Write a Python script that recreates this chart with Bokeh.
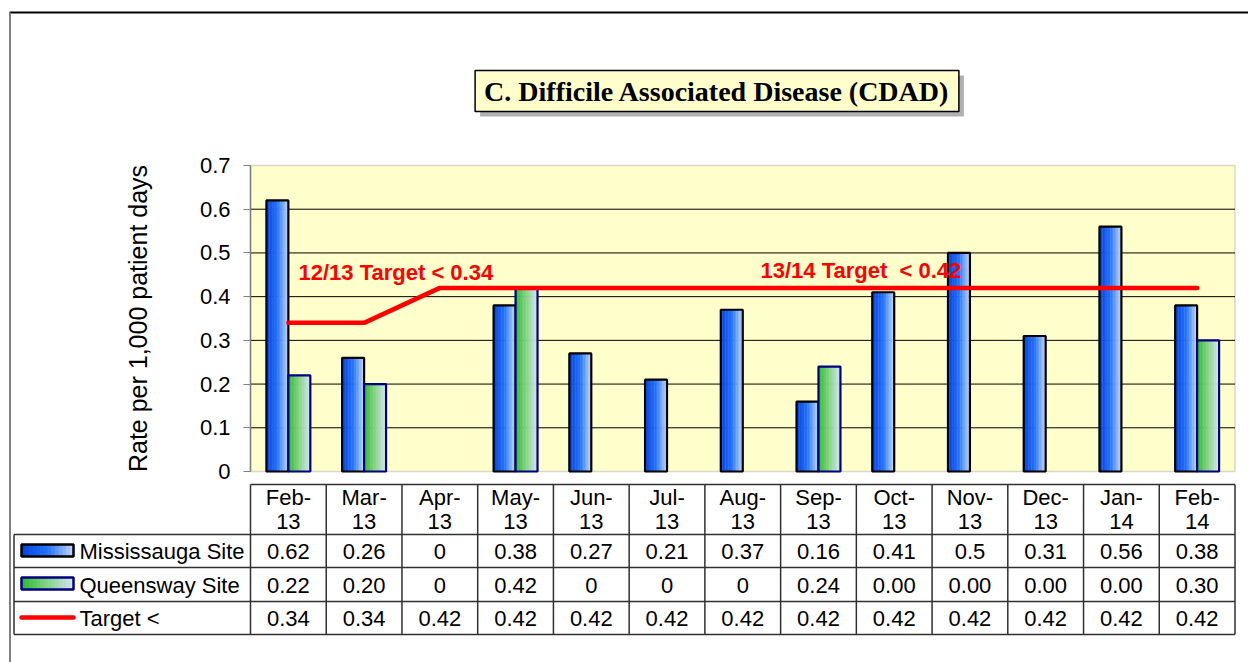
import numpy as np
from bokeh.plotting import figure
from bokeh.models import Range1d, FixedTicker, Label, BoxAnnotation, LinearAxis
from bokeh.embed import file_html
from bokeh.resources import INLINE
from bokeh.core.properties import value

# ---------------- data ----------------
months = ["Feb-13", "Mar-13", "Apr-13", "May-13", "Jun-13", "Jul-13", "Aug-13",
          "Sep-13", "Oct-13", "Nov-13", "Dec-13", "Jan-14", "Feb-14"]
mississauga = [0.62, 0.26, 0, 0.38, 0.27, 0.21, 0.37, 0.16, 0.41, 0.5, 0.31, 0.56, 0.38]
queensway = [0.22, 0.20, 0, 0.42, 0, 0, 0, 0.24, 0, 0, 0, 0, 0.30]
target = [0.34, 0.34, 0.42, 0.42, 0.42, 0.42, 0.42, 0.42, 0.42, 0.42, 0.42, 0.42, 0.42]
mississauga_labels = ["0.62", "0.26", "0", "0.38", "0.27", "0.21", "0.37", "0.16", "0.41", "0.5", "0.31", "0.56", "0.38"]
queensway_labels = ["0.22", "0.20", "0", "0.42", "0", "0", "0", "0.24", "0.00", "0.00", "0.00", "0.00", "0.30"]
target_labels = ["0.34", "0.34", "0.42", "0.42", "0.42", "0.42", "0.42", "0.42", "0.42", "0.42", "0.42", "0.42", "0.42"]
series_names = ["Mississauga Site", "Queensway Site", "Target <"]
y_ticks = [0, 0.1, 0.2, 0.3, 0.4, 0.5, 0.6, 0.7]
title_text = "C. Difficile Associated Disease (CDAD)"
y_title = "Rate per 1,000 patient days"
note_1213 = "12/13 Target < 0.34"
note_1314 = "13/14 Target \u00a0< 0.42"

FONT = "Liberation Sans"
W, H = 1248, 662
N = len(months)
YMAX = 0.7

# ---------------- layout geometry (pixels) ----------------
PL, PR, PT, PB = 250, 1234.5, 165, 471      # plot area
cat_px = (PR - PL) / N
val_px = (PB - PT) / YMAX

def X(px):
    return (px - PL) / cat_px

def Y(py):
    return (PB - py) / val_px

# ---------------- gradient helpers ----------------
def interp(stops, t):
    for (t0, c0), (t1, c1) in zip(stops[:-1], stops[1:]):
        if t <= t1:
            f = (t - t0) / (t1 - t0) if t1 > t0 else 0
            c = [int(round(a + (b - a) * f)) for a, b in zip(c0, c1)]
            return "#%02x%02x%02x" % tuple(c)
    return "#%02x%02x%02x" % tuple(stops[-1][1])

BLUE = [(0.0, (5, 65, 225)), (0.5, (35, 115, 250)), (1.0, (195, 215, 255))]
GREEN = [(0.0, (45, 185, 50)), (0.45, (125, 210, 125)), (1.0, (215, 228, 245))]
NS = 14

# ---------------- figure ----------------
p = figure(width=W, height=H, output_backend="svg", toolbar_location=None,
           x_range=Range1d(X(0), X(W)), y_range=Range1d(Y(H), Y(0)),
           x_axis_location=None, y_axis_location=None,
           min_border_left=0, min_border_right=0, min_border_top=0, min_border_bottom=0)
p.outline_line_color = None
p.background_fill_color = "white"
p.border_fill_color = "white"
p.grid.visible = False

# outer frame of the chart object
p.segment(x0=[X(9)], y0=[Y(12)], x1=[X(W)], y1=[Y(12)], line_color="black", line_width=2)
p.segment(x0=[X(9.5)], y0=[Y(12)], x1=[X(9.5)], y1=[Y(H)], line_color="#808080", line_width=2)

# plot area
p.add_layout(BoxAnnotation(left=0, right=N, bottom=0, top=YMAX, fill_color="#FFFFCC", fill_alpha=1,
                           line_color="#808080", line_width=1.5, level="underlay"))
grid_vals = y_ticks[1:-1]
p.segment(x0=[0] * len(grid_vals), y0=grid_vals, x1=[N] * len(grid_vals), y1=grid_vals,
          line_color="black", line_width=1)

ax = LinearAxis(fixed_location=0, bounds=(0, YMAX), ticker=FixedTicker(ticks=y_ticks))
ax.major_label_overrides = {0: "0"}
ax.axis_line_color = "#808080"
ax.axis_line_width = 1.5
ax.major_tick_line_color = "#808080"
ax.major_tick_out = 7
ax.major_tick_in = 0
ax.minor_tick_line_color = None
ax.major_label_text_font = FONT
ax.major_label_text_font_size = "22px"
ax.major_label_text_color = "black"
ax.major_label_standoff = 13
ax.axis_label = y_title
ax.axis_label_text_font = FONT
ax.axis_label_text_font_size = "25px"
ax.axis_label_text_font_style = "normal"
ax.axis_label_text_color = "black"
ax.axis_label_standoff = 45
p.add_layout(ax, "left")

BW = 0.29
idx = np.arange(N) + 0.5

def draw_bars(vals, offset, stops, outline):
    vals = np.array(vals, dtype=float)
    mask = vals > 0
    xs, tops, cols = [], [], []
    sw = BW / NS
    for k in range(NS):
        col = interp(stops, (k + 0.5) / NS)
        for i in np.where(mask)[0]:
            xs.append(idx[i] + offset - BW / 2 + (k + 0.5) * sw)
            tops.append(vals[i])
            cols.append(col)
    p.vbar(x=xs, top=tops, bottom=0, width=sw * 1.25, fill_color=cols, line_color=None)
    p.vbar(x=idx[mask] + offset, top=vals[mask], bottom=0, width=BW,
           fill_color=None, line_color=outline, line_width=2.2)

draw_bars(mississauga, -BW / 2, BLUE, "black")
draw_bars(queensway, BW / 2, GREEN, "#000080")

p.line(x=idx, y=target, line_color="#FF0000", line_width=4.5, line_cap="round", line_join="round")

for txt, px, py in [(note_1213, 298, 272), (note_1314, 760, 270)]:
    p.add_layout(Label(x=X(px), y=Y(py), text=txt, text_font=FONT, text_font_size="22px",
                       text_font_style="bold", text_color="#FF0000",
                       text_align="left", text_baseline="middle"))

# title box with shadow
tx, ty = X(716.5), Y(90.5)
pad = {"left": 9, "right": 9, "top": 5, "bottom": 5}
p.add_layout(Label(x=tx, y=ty, x_offset=5, y_offset=-5, text=title_text,
                   text_font="Liberation Serif", text_font_size="28px", text_font_style="bold",
                   text_color="#B0B0B0", text_align="center", text_baseline="middle",
                   background_fill_color="#B0B0B0", border_line_color=None, padding=pad))
p.add_layout(Label(x=tx, y=ty, text=title_text,
                   text_font="Liberation Serif", text_font_size="28px", text_font_style="bold",
                   text_color="black", text_align="center", text_baseline="middle",
                   background_fill_color="#FFFFCC", border_line_color="black", border_line_width=1.5,
                   padding=pad))

# ---------------- data table ----------------
LC = "#303030"
LW = 1.5
TL = 13.5
row_px = [484, 534, 567, 601, 634]
ry = [Y(v) for v in row_px]
p.segment(x0=[0], y0=[ry[0]], x1=[N], y1=[ry[0]], line_color=LC, line_width=LW)
p.segment(x0=[X(TL)] * 4, y0=ry[1:], x1=[N] * 4, y1=ry[1:], line_color=LC, line_width=LW)
vx = list(range(N + 1))
p.segment(x0=vx, y0=[ry[0]] * len(vx), x1=vx, y1=[ry[-1]] * len(vx), line_color=LC, line_width=LW)
p.segment(x0=[X(TL)], y0=[ry[1]], x1=[X(TL)], y1=[ry[-1]], line_color=LC, line_width=LW)

head_top = [m.split("-")[0] + "-" for m in months]
head_bot = [m.split("-")[1] for m in months]
tf = dict(text_font=value(FONT), text_font_size="22px", text_color="black", text_baseline="middle")
p.text(x=idx, y=[Y(497)] * N, text=head_top, text_align="center", **tf)
p.text(x=idx, y=[Y(521)] * N, text=head_bot, text_align="center", **tf)
mid_px = [550.5, 584.5, 617.5]
for labs, b in zip([mississauga_labels, queensway_labels, target_labels], mid_px):
    p.text(x=idx, y=[Y(b)] * N, text=labs, text_align="center", **tf)
for name, b in zip(series_names, mid_px):
    p.text(x=[X(79)], y=[Y(b)], text=[name], text_align="left", **tf)

# legend keys
s0, s1 = X(21), X(73)
for (stops, oc), (t0, t1) in zip([(BLUE, "black"), (GREEN, "#000080")], [(544, 556), (577, 589)]):
    ls = [s0 + (s1 - s0) * k / NS for k in range(NS)]
    rs = [s0 + (s1 - s0) * (k + 1.2) / NS for k in range(NS)]
    cs = [interp(stops, (k + 0.5) / NS) for k in range(NS)]
    p.quad(left=ls, right=rs, top=[Y(t0)] * NS, bottom=[Y(t1)] * NS, fill_color=cs, line_color=None)
    p.quad(left=[s0], right=[s1], top=[Y(t0)], bottom=[Y(t1)], fill_color=None, line_color=oc, line_width=2.5)
p.line(x=[s0, s1], y=[Y(617), Y(617)], line_color="#FF0000", line_width=4.5, line_cap="round")

open("out.html", "w").write(file_html(p, INLINE))
